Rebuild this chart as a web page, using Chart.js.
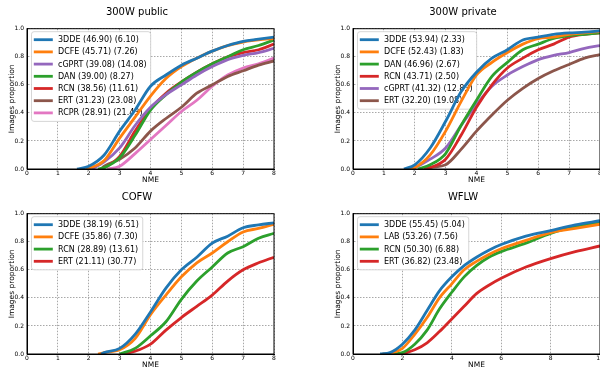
<!DOCTYPE html>
<html>
<head>
<meta charset="utf-8">
<script src="https://cdn.jsdelivr.net/npm/chart.js@4/dist/chart.umd.min.js"></script>
<style>
  html, body { margin: 0; padding: 0; background: #fff; overflow: hidden; width: 600px; height: 369px; }
  canvas { position: absolute; }
</style>
</head>
<body>
<canvas id="pub" width="300" height="185" style="left:0;top:0"></canvas>
<canvas id="priv" width="300" height="185" style="left:326px;top:0"></canvas>
<canvas id="cofw" width="300" height="185" style="left:0;top:185px"></canvas>
<canvas id="wflw" width="300" height="185" style="left:326px;top:185px"></canvas>
<script>
// NME grid the curves are read on
const nmeGrid = [2, 2.5, 3, 3.5, 4, 4.5, 5, 5.5, 6, 6.5, 7, 7.5, 8];
const wflwGrid = [1.5, 2, 2.5, 3, 3.5, 4, 4.5, 5, 5.5, 6, 7, 8, 9, 10];

// 300W public
const pubLabels = ['3DDE (46.90) (6.10)', 'DCFE (45.71) (7.26)', 'cGPRT (39.08) (14.08)', 'DAN (39.00) (8.27)',
  'RCN (38.56) (11.61)', 'ERT (31.23) (23.08)', 'RCPR (28.91) (21.43)'];
const pubStart = [1.62, 1.9, 2.1, 2.3, 2.4, 2.4, 2.6];
const pub3DDE = [0.02, 0.10, 0.27, 0.42, 0.59, 0.67, 0.74, 0.79, 0.84, 0.88, 0.91, 0.925, 0.94];
const pubDCFE = [0.005, 0.06, 0.22, 0.37, 0.52, 0.645, 0.73, 0.79, 0.84, 0.88, 0.905, 0.92, 0.93];
const pubCGPRT = [0, 0.05, 0.15, 0.31, 0.44, 0.53, 0.60, 0.67, 0.73, 0.78, 0.81, 0.83, 0.86];
const pubDAN = [0, 0.01, 0.08, 0.24, 0.42, 0.53, 0.62, 0.69, 0.75, 0.80, 0.85, 0.88, 0.92];
const pubRCN = [0, 0.01, 0.09, 0.27, 0.43, 0.54, 0.62, 0.69, 0.75, 0.80, 0.83, 0.85, 0.89];
const pubERT = [0, 0.02, 0.07, 0.15, 0.27, 0.36, 0.44, 0.54, 0.60, 0.66, 0.70, 0.74, 0.77];
const pubRCPR = [0, 0, 0.02, 0.11, 0.21, 0.31, 0.41, 0.49, 0.59, 0.67, 0.72, 0.75, 0.79];

// 300W private
const privLabels = ['3DDE (53.94) (2.33)', 'DCFE (52.43) (1.83)', 'DAN (46.96) (2.67)', 'RCN (43.71) (2.50)',
  'cGPRT (41.32) (12.83)', 'ERT (32.20) (19.08)'];
const privStart = [1.65, 1.8, 2.1, 2.3, 1.8, 2.4];
const priv3DDE = [0.03, 0.15, 0.34, 0.55, 0.69, 0.79, 0.85, 0.92, 0.94, 0.96, 0.97, 0.975, 0.985];
const privDCFE = [0.01, 0.10, 0.27, 0.48, 0.67, 0.76, 0.83, 0.89, 0.93, 0.94, 0.96, 0.97, 0.98];
const privDAN = [0, 0.03, 0.11, 0.31, 0.49, 0.66, 0.76, 0.85, 0.89, 0.93, 0.95, 0.96, 0.97];
const privRCN = [0, 0.01, 0.07, 0.24, 0.44, 0.60, 0.72, 0.79, 0.85, 0.89, 0.94, 0.96, 0.97];
const privCGPRT = [0.01, 0.07, 0.15, 0.31, 0.46, 0.59, 0.67, 0.73, 0.78, 0.81, 0.83, 0.86, 0.88];
const privERT = [0, 0.01, 0.03, 0.14, 0.27, 0.385, 0.49, 0.575, 0.645, 0.70, 0.745, 0.79, 0.815];

// COFW
const cofwLabels = ['3DDE (38.19) (6.51)', 'DCFE (35.86) (7.30)', 'RCN (28.89) (13.61)', 'ERT (21.11) (30.77)'];
const cofwStart = [2.4, 2.3, 3.0, 3.1];
const cofw3DDE = [0, 0.01, 0.04, 0.14, 0.30, 0.47, 0.60, 0.69, 0.79, 0.84, 0.90, 0.92, 0.935];
const cofwDCFE = [0, 0.01, 0.03, 0.11, 0.28, 0.42, 0.55, 0.65, 0.72, 0.80, 0.87, 0.895, 0.925];
const cofwRCN = [0, 0, 0, 0.04, 0.13, 0.23, 0.39, 0.52, 0.62, 0.72, 0.765, 0.825, 0.86];
const cofwERT = [0, 0, 0, 0.02, 0.07, 0.17, 0.26, 0.34, 0.42, 0.52, 0.60, 0.65, 0.69];

// WFLW
const wflwLabels = ['3DDE (55.45) (5.04)', 'LAB (53.26) (7.56)', 'RCN (50.30) (6.88)', 'ERT (36.82) (23.48)'];
const wflwStart = [1.1, 1.2, 1.5, 2.0];
const wflw3DDE = [0.01, 0.07, 0.17, 0.31, 0.45, 0.55, 0.63, 0.69, 0.74, 0.78, 0.84, 0.88, 0.92, 0.95];
const wflwLAB = [0.005, 0.04, 0.14, 0.26, 0.40, 0.50, 0.60, 0.66, 0.71, 0.75, 0.81, 0.865, 0.895, 0.925];
const wflwRCN = [0, 0.01, 0.07, 0.17, 0.32, 0.44, 0.55, 0.63, 0.69, 0.73, 0.79, 0.86, 0.91, 0.935];
const wflwERT = [0, 0, 0.03, 0.08, 0.16, 0.25, 0.34, 0.43, 0.49, 0.54, 0.62, 0.68, 0.73, 0.77];

const C = {
  blue: '#1f77b4', orange: '#ff7f0e', green: '#2ca02c', red: '#d62728',
  purple: '#9467bd', brown: '#8c564b', pink: '#e377c2'
};
const FONT = '"DejaVu Sans", sans-serif';

function curve(start, grid, ys) {
  const pts = [{ x: start, y: 0 }];
  grid.forEach((x, i) => { if (x > start) pts.push({ x: x, y: ys[i] }); });
  return pts;
}

// legend drawn before the lines, so the curves run over it like in the original
const legendBox = {
  id: 'legendBox',
  beforeDatasetsDraw(chart) {
    const { ctx, chartArea: a } = chart;
    const sets = chart.data.datasets;
    ctx.save();
    ctx.font = '8px ' + FONT;
    const textW = Math.max(...sets.map(d => ctx.measureText(d.label).width));
    const x0 = a.left + 4.5, y0 = a.top + 3;
    const w = 26.5 + textW + 4, h = 8 + (sets.length - 1) * 12.2 + 8.5;
    ctx.beginPath();
    ctx.roundRect(x0, y0, w, h, 2.5);
    ctx.fillStyle = '#fff';
    ctx.fill();
    ctx.strokeStyle = '#cccccc';
    ctx.lineWidth = 0.8;
    ctx.stroke();
    sets.forEach((d, i) => {
      const y = y0 + 8 + i * 12.2;
      ctx.beginPath();
      ctx.moveTo(x0 + 2.3, y);
      ctx.lineTo(x0 + 21.3, y);
      ctx.strokeStyle = d.borderColor;
      ctx.lineWidth = 2.8;
      ctx.stroke();
      ctx.fillStyle = '#000';
      ctx.textBaseline = 'middle';
      ctx.fillText(d.label, x0 + 26.5, y + 0.5);
    });
    ctx.restore();
  }
};

const frame = {
  id: 'frame',
  afterDraw(chart) {
    const { ctx, chartArea: a } = chart;
    ctx.save();
    ctx.strokeStyle = '#000';
    ctx.lineWidth = 1;
    ctx.strokeRect(a.left, a.top, a.right - a.left, a.bottom - a.top);
    ctx.restore();
  }
};

function makeChart(id, title, labels, colors, starts, grid, series, xMax, xStep) {
  const datasets = series.map((ys, i) => ({
    label: labels[i],
    data: curve(starts[i], grid, ys),
    borderColor: colors[i],
    backgroundColor: colors[i],
    borderWidth: 2.8,
    pointRadius: 0,
    fill: false,
    cubicInterpolationMode: 'monotone'
  }));
  new Chart(document.getElementById(id), {
    type: 'line',
    data: { datasets },
    options: {
      responsive: false,
      animation: false,
      layout: { padding: { left: 0, right: 26, top: 0, bottom: 0 } },
      plugins: {
        legend: { display: false },
        tooltip: { enabled: false },
        title: {
          display: true, text: title, color: '#000',
          font: { family: FONT, size: 10, weight: 'normal' },
          padding: { top: 6, bottom: 10.7 }
        }
      },
      scales: {
        x: {
          type: 'linear', min: 0, max: xMax,
          afterFit: s => { s.height = 16; },
          ticks: { stepSize: xStep, color: '#000', font: { family: FONT, size: 6 }, padding: 1, maxRotation: 0 },
          grid: { color: '#a8a8a8', lineWidth: 1, drawTicks: false },
          border: { display: true, color: '#000', width: 1, dash: [1.5, 1.5] },
          title: { display: true, text: 'NME', color: '#000', font: { family: FONT, size: 7.5 }, padding: { top: 0, bottom: 0 } }
        },
        y: {
          min: 0, max: 1,
          afterFit: s => { s.width = 27; },
          ticks: { stepSize: 0.2, color: '#000', font: { family: FONT, size: 6 }, padding: 3, callback: v => v.toFixed(1) },
          grid: { color: '#a8a8a8', lineWidth: 1, drawTicks: false },
          border: { display: true, color: '#000', width: 1, dash: [1.5, 1.5] },
          title: { display: true, text: 'Images proportion', color: '#000', font: { family: FONT, size: 7.5 }, padding: { top: 7.5, bottom: 0 } }
        }
      }
    },
    plugins: [legendBox, frame]
  });
}

makeChart('pub', '300W public', pubLabels,
  [C.blue, C.orange, C.purple, C.green, C.red, C.brown, C.pink], pubStart, nmeGrid,
  [pub3DDE, pubDCFE, pubCGPRT, pubDAN, pubRCN, pubERT, pubRCPR], 8, 1);
makeChart('priv', '300W private', privLabels,
  [C.blue, C.orange, C.green, C.red, C.purple, C.brown], privStart, nmeGrid,
  [priv3DDE, privDCFE, privDAN, privRCN, privCGPRT, privERT], 8, 1);
makeChart('cofw', 'COFW', cofwLabels,
  [C.blue, C.orange, C.green, C.red], cofwStart, nmeGrid,
  [cofw3DDE, cofwDCFE, cofwRCN, cofwERT], 8, 1);
makeChart('wflw', 'WFLW', wflwLabels,
  [C.blue, C.orange, C.green, C.red], wflwStart, wflwGrid,
  [wflw3DDE, wflwLAB, wflwRCN, wflwERT], 10, 2);
</script>
</body>
</html>
